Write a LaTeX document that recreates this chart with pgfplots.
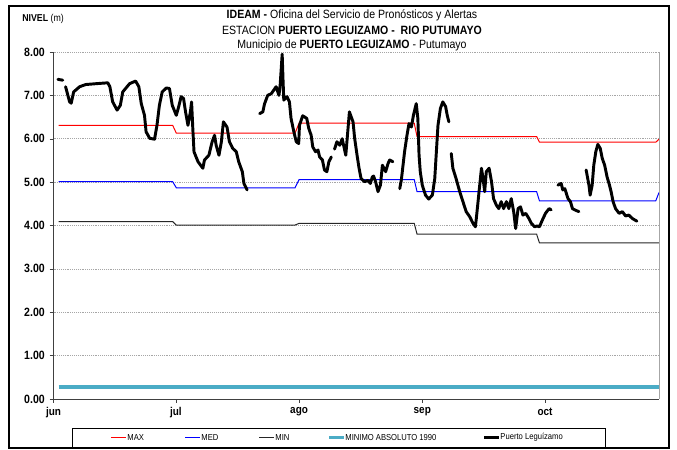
\documentclass[border=0pt]{standalone}
\usepackage{pgfplots}
\pgfplotsset{compat=1.18}
\usepackage{fontspec}
\setmainfont[FakeStretch=0.88]{Liberation Sans}
\definecolor{tealmin}{RGB}{75,172,198}
\begin{document}
\begin{tikzpicture}
\path[use as bounding box] (0pt,0pt) rectangle (507.75pt,336.75pt);
\draw[line width=1.5pt] (6.75pt,0.75pt) rectangle (501.75pt,332.25pt);
% title
\node[font=\fontsize{9}{10}\selectfont] at (264pt,325pt) {\textbf{IDEAM -} Oficina del Servicio de Pronósticos y Alertas};
\node[font=\fontsize{9}{10}\selectfont] at (264pt,313.75pt) {ESTACION \textbf{PUERTO LEGUIZAMO -\ \ RIO PUTUMAYO}};
\node[font=\fontsize{9}{10}\selectfont] at (264pt,302.5pt) {Municipio de \textbf{PUERTO LEGUIZAMO} - Putumayo};
\node[anchor=west,inner sep=0pt] at (16.5pt,322.5pt) {\fontsize{7.5}{8}\selectfont\textbf{NIVEL} {\fontsize{7.5}{8}\selectfont(m)}};
% legend box and texts
\draw[line width=0.6pt] (54pt,1.5pt) rectangle (453.75pt,15.75pt);
\begin{scope}[every node/.style={anchor=west, inner sep=0.6pt, font=\fontsize{6.5}{8}\selectfont}]
\node at (94.8pt,8.6pt) {MAX};
\node at (150.3pt,8.6pt) {MED};
\node at (205.8pt,8.6pt) {MIN};
\node at (258.3pt,8.6pt) {MINIMO ABSOLUTO 1990};
\node at (374.55pt,8.6pt) {Puerto Leguízamo};
\end{scope}
\begin{axis}[
  at={(40.125pt,37.5pt)}, anchor=south west,
  width=454.125pt, height=260.25pt, scale only axis,
  xmin=0, xmax=150.4, ymin=0, ymax=8, clip=false,
  axis x line*=bottom, axis y line*=left,
  axis line style={black!75},
  xtick={0,30.4,61,91.6,122.1},
  xticklabels={jun,jul,ago,sep,oct},
  ytick={0,1,...,8},
  ymajorgrids,
  major grid style={gray!70, dash pattern=on 0.7pt off 0.7pt},
  tick align=outside, major tick length=3pt,
  tick style={black!75},
  yticklabel style={/pgf/number format/fixed, /pgf/number format/fixed zerofill,
    /pgf/number format/precision=2, /pgf/number format/assume math mode=true,
    font=\fontsize{9}{10}\selectfont\bfseries},
  xticklabel style={font=\fontsize{8.5}{10}\selectfont\bfseries},
  unbounded coords=jump,
]
\addplot[red, line width=0.75pt] coordinates {(1.3,6.31) (29.6,6.31) (30.5,6.13) (60,6.13) (61,6.36) (89.6,6.36) (90.3,6.05) (120,6.05) (120.7,5.92) (149.6,5.92) (150.4,5.99)};
\addplot[blue, line width=0.75pt] coordinates {(1.3,5.01) (29.6,5.01) (30.5,4.87) (60,4.87) (61,5.06) (89.6,5.06) (90.3,4.78) (120,4.78) (120.7,4.57) (149.6,4.57) (150.4,4.76)};
\addplot[black!85, line width=0.75pt] coordinates {(1.3,4.09) (29.6,4.09) (30.5,4.01) (60,4.01) (61,4.05) (89.6,4.05) (90.3,3.80) (120,3.80) (120.7,3.60) (150.4,3.60)};
\addplot[tealmin, line width=2.7pt] coordinates {(1.3,0.28) (150.4,0.28)};
\addplot[black, line width=2.2pt, line join=round, line cap=round] coordinates {
(1.1,7.37) (2.3,7.35) (2.6,nan)
(3.0,7.20) (4.0,6.85) (4.4,6.82) (5.0,7.08) (6.5,7.20) (8.0,7.25) (10.6,7.27) (13.5,7.29) (14.0,7.20) (14.7,6.85) (15.8,6.66) (16.6,6.77) (17.2,7.08) (18.9,7.27) (20.4,7.33) (21.2,7.20) (21.8,6.81) (22.6,6.54) (23.0,6.16) (23.9,6.01) (25.1,5.99) (25.7,6.31) (26.3,6.77) (27.0,7.08) (28.0,7.17) (28.8,7.16) (29.5,6.77) (30.5,6.54) (31.1,6.74) (31.7,6.97) (32.3,6.93) (32.8,6.62) (33.4,6.31) (34.0,6.62) (34.3,6.85) (34.6,6.24) (34.9,5.70) (35.9,5.47) (37.1,5.32) (37.5,5.51) (38.6,5.62) (39.4,5.93) (40.0,6.08) (40.4,5.85) (41.1,5.62) (41.7,5.93) (42.2,6.39) (43.1,6.27) (43.7,5.93) (44.5,5.78) (45.4,5.70) (46.0,5.47) (46.9,5.24) (47.3,4.97) (48.1,4.82) (49,nan)
(51.2,6.58) (52.0,6.62) (52.4,6.80) (53.2,7.00) (54.1,7.04) (55.3,7.20) (56.0,7.00) (56.3,7.24) (56.8,7.95) (57.0,7.39) (57.2,6.89) (58.0,6.97) (58.6,6.85) (59.0,6.47) (59.7,6.16) (60.3,5.93) (60.9,5.89) (61.1,6.31) (61.9,6.53) (62.9,6.47) (63.4,6.24) (64.0,6.08) (64.4,5.81) (65.1,5.70) (65.7,5.74) (66.1,5.58) (66.8,5.51) (67.3,5.28) (67.9,5.24) (68.4,5.47) (69.0,5.58) (69.4,nan)
(69.8,5.76) (70.4,5.93) (71.1,5.85) (71.7,6.00) (72.6,5.62) (73.5,6.62) (74.4,6.39) (74.8,6.01) (75.4,5.62) (75.9,5.32) (76.4,5.08) (77.3,5.01) (78.1,5.04) (78.7,4.97) (79.2,5.12) (79.5,5.14) (80.0,5.01) (80.6,4.78) (81.2,4.93) (81.7,5.39) (82.5,5.24) (83.1,5.43) (83.5,5.51) (84.3,5.47) (85,nan)
(86.0,4.85) (86.4,5.05) (87.2,5.70) (87.8,6.08) (88.3,6.35) (88.9,6.27) (89.4,6.54) (90.1,6.81) (90.5,6.47) (90.8,5.62) (91.1,5.24) (91.6,4.93) (92.4,4.70) (93.2,4.61) (94.1,4.70) (94.7,5.08) (95.1,5.70) (95.5,6.31) (96.1,6.70) (96.7,6.85) (97.4,6.74) (97.8,6.54) (98.2,6.39) (98.5,nan)
(98.8,5.66) (99.2,5.32) (100.0,5.08) (100.9,4.78) (101.7,4.55) (102.5,4.32) (103.4,4.20) (104.2,4.05) (104.8,3.97) (105.2,4.32) (105.7,4.78) (106.3,5.32) (106.7,5.08) (107.1,4.78) (107.5,5.24) (108.2,5.32) (108.8,5.01) (109.3,4.62) (110.0,4.47) (110.6,4.39) (111.2,4.55) (111.8,4.39) (112.5,4.55) (113.1,4.39) (113.7,4.62) (114.3,4.32) (114.8,3.93) (115.4,4.39) (116.0,4.43) (116.6,4.24) (117.3,4.28) (118.1,4.16) (118.7,4.05) (119.5,3.97) (120.1,3.99) (120.7,3.97) (121.4,4.12) (122.2,4.28) (123.1,4.39) (123.6,4.36) (124.5,nan)
(125.3,4.93) (126.1,4.97) (126.5,4.82) (127.0,4.85) (127.8,4.62) (128.4,4.55) (128.9,4.39) (129.7,4.35) (130.5,4.32) (131.4,nan)
(132.3,5.28) (133.0,4.93) (133.3,4.70) (133.8,4.93) (134.2,5.39) (134.7,5.70) (135.2,5.87) (135.8,5.78) (136.3,5.55) (136.9,5.39) (137.5,5.12) (138.1,4.93) (138.5,4.78) (139.0,4.55) (139.6,4.39) (140.5,4.28) (141.3,4.32) (142.1,4.22) (142.9,4.24) (143.8,4.16) (144.9,4.10)
};
\draw[gray!70] (rel axis cs:1,0) -- (rel axis cs:1,1);
% legend swatches
\fill[red] (rel axis cs:0.0950,-0.1099) rectangle (rel axis cs:0.1197,-0.1121);
\fill[blue] (rel axis cs:0.2172,-0.1099) rectangle (rel axis cs:0.2420,-0.1121);
\fill[black!85] (rel axis cs:0.3394,-0.1099) rectangle (rel axis cs:0.3642,-0.1121);
\fill[tealmin] (rel axis cs:0.4550,-0.1057) rectangle (rel axis cs:0.4798,-0.1161);
\fill[black] (rel axis cs:0.7110,-0.1067) rectangle (rel axis cs:0.7358,-0.1152);
\end{axis}
\end{tikzpicture}
\end{document}
